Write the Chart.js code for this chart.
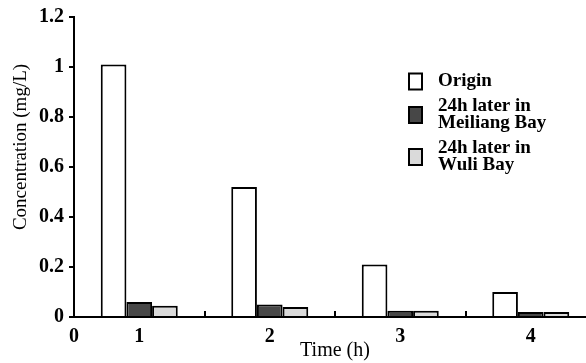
<!DOCTYPE html>
<html>
<head>
<meta charset="utf-8">
<script src="https://cdn.jsdelivr.net/npm/chart.js@4"></script>
<style>
  html, body { margin: 0; padding: 0; background: #fff; overflow: hidden; }
  #wrap { position: relative; width: 600px; height: 363px; }
</style>
</head>
<body>
<div id="wrap"><canvas id="concChart"></canvas></div>
<script>
// data
const timeLabels = ['1', '2', '3', '4'];
const originData = [1.01, 0.52, 0.21, 0.10];
const meiliangData = [0.06, 0.05, 0.025, 0.02];
const wuliData = [0.045, 0.04, 0.025, 0.02];
const yTicks = [0, 0.2, 0.4, 0.6, 0.8, 1, 1.2];
const yTickLabels = ['0', '0.2', '0.4', '0.6', '0.8', '1', '1.2'];

const serif = '"Liberation Serif", "Times New Roman", serif';

// legend drawn inside the plot, labels can wrap with \n
const insideLegend = {
  id: 'insideLegend',
  afterDraw(chart) {
    const { ctx, chartArea } = chart;
    const lineH = 17;
    const x = chartArea.left + 334;
    let y = chartArea.top + 56;
    ctx.save();
    ctx.font = 'bold 19px ' + serif;
    ctx.textBaseline = 'middle';
    ctx.textAlign = 'left';
    chart.data.datasets.forEach(ds => {
      const lines = ds.label.split('\n');
      const h = lines.length * lineH;
      const boxY = y + h / 2 - 9;
      ctx.fillStyle = ds.backgroundColor;
      ctx.fillRect(x, boxY, 15, 18);
      ctx.strokeStyle = '#000';
      ctx.lineWidth = 2;
      ctx.strokeRect(x + 1, boxY + 1, 13, 16);
      ctx.fillStyle = '#000';
      lines.forEach((t, i) => ctx.fillText(t, x + 30, y + lineH / 2 + i * lineH));
      y += h + 8;
    });
    ctx.restore();
  }
};

// upward tick marks between categories, the "0" at the origin and the y title
const axisMarks = {
  id: 'axisMarks',
  afterDraw(chart) {
    const { ctx, chartArea, scales: { x } } = chart;
    ctx.save();
    ctx.strokeStyle = '#000';
    ctx.lineWidth = 2;
    for (let i = 1; i < timeLabels.length; i++) {
      const px = Math.round((x.getPixelForTick(i - 1) + x.getPixelForTick(i)) / 2);
      ctx.beginPath();
      ctx.moveTo(px, chartArea.bottom);
      ctx.lineTo(px, chartArea.bottom - 6);
      ctx.stroke();
    }
    ctx.fillStyle = '#000';
    ctx.font = 'bold 20px ' + serif;
    ctx.textAlign = 'center';
    ctx.textBaseline = 'middle';
    ctx.fillText('0', chartArea.left, chartArea.bottom + 8 + 20 * 1.2 / 2);

    ctx.font = '19px ' + serif;
    ctx.translate(21, chartArea.top + 130);
    ctx.rotate(-Math.PI / 2);
    ctx.fillText('Concentration (mg/L)', 0, 0);
    ctx.restore();
  }
};

const ctx = document.getElementById('concChart').getContext('2d');

new Chart(ctx, {
  type: 'bar',
  data: {
    labels: timeLabels,
    datasets: [{
      label: 'Origin',
      data: originData,
      backgroundColor: '#ffffff',
      borderColor: '#000',
      borderWidth: 2
    }, {
      label: '24h later in\nMeiliang Bay',
      data: meiliangData,
      backgroundColor: '#474747',
      borderColor: '#000',
      borderWidth: 2
    }, {
      label: '24h later in\nWuli Bay',
      data: wuliData,
      backgroundColor: '#dadada',
      borderColor: '#000',
      borderWidth: 2
    }]
  },
  options: {
    responsive: true,
    maintainAspectRatio: false,
    animation: false,
    categoryPercentage: 0.59,
    barPercentage: 1.0,
    layout: { padding: { top: 15, right: 4, left: 0, bottom: 0 } },
    plugins: {
      legend: { display: false },
      tooltip: { enabled: false }
    },
    scales: {
      x: {
        grid: { display: false, drawTicks: false },
        border: { color: '#000', width: 2 },
        ticks: {
          color: '#000',
          padding: 8,
          font: { family: serif, size: 20, weight: 'bold' }
        },
        title: {
          display: true,
          text: 'Time (h)',
          color: '#000',
          padding: { top: 0, bottom: 0, left: 14 },
          align: 'center',
          font: { family: serif, size: 20 }
        },
        afterFit(scale) { scale.height = 46; }
      },
      y: {
        min: 0,
        max: 1.2,
        afterBuildTicks(scale) { scale.ticks = yTicks.map(v => ({ value: v })); },
        grid: { drawOnChartArea: false, drawTicks: true, tickLength: 5, color: '#000', lineWidth: 2 },
        border: { color: '#000', width: 2 },
        ticks: {
          color: '#000',
          padding: 5,
          callback: (v, i) => yTickLabels[i],
          font: { family: serif, size: 20, weight: 'bold' }
        },
        title: { display: false },
        afterFit(scale) { scale.width = 74; }
      }
    }
  },
  plugins: [insideLegend, axisMarks]
});
</script>
</body>
</html>
